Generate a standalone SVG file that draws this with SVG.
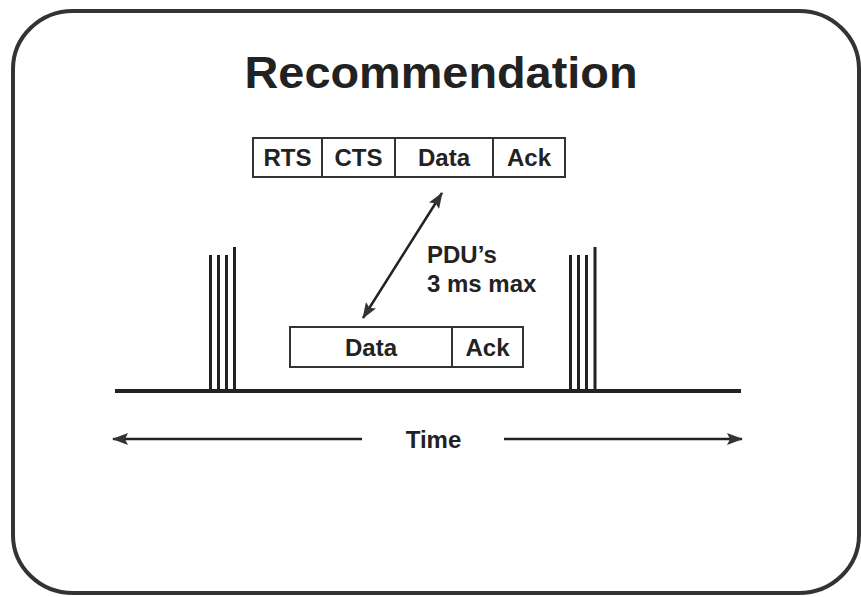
<svg xmlns="http://www.w3.org/2000/svg" width="861" height="597" viewBox="0 0 861 597">
<style>
text{font-family:"Liberation Sans",Arial,sans-serif;font-weight:bold;fill:#222}
.box{fill:#fff;stroke:#333;stroke-width:2}
.lbl{font-size:24px;text-anchor:middle}
.ln{stroke:#222;fill:none}
</style>
<defs>
<marker id="ah2" viewBox="0 0 16 12" refX="15" refY="6" markerWidth="16" markerHeight="12" markerUnits="userSpaceOnUse" orient="auto-start-reverse">
<path d="M0,0 L16,6 L0,12 L3,6 z" fill="#333"/>
</marker>
</defs>
<rect width="861" height="597" fill="#fff"/>
<rect x="13" y="11" width="846" height="582" rx="60" ry="58" fill="none" stroke="#333" stroke-width="4"/>
<text x="441" y="88" font-size="44" text-anchor="middle" textLength="393" lengthAdjust="spacingAndGlyphs">Recommendation</text>
<g id="top-sequence">
<g id="rts"><rect class="box" x="253" y="138" width="69" height="39"/><text class="lbl" x="287.5" y="166">RTS</text></g>
<g id="cts"><rect class="box" x="322" y="138" width="73" height="39"/><text class="lbl" x="358.5" y="166">CTS</text></g>
<g id="data-top"><rect class="box" x="395" y="138" width="98" height="39" stroke-width="2.5"/><text class="lbl" x="444" y="166">Data</text></g>
<g id="ack-top"><rect class="box" x="493" y="138" width="72" height="39"/><text class="lbl" x="529" y="166">Ack</text></g>
</g>
<g id="bottom-sequence">
<g id="data-bottom"><rect class="box" x="290" y="327" width="162" height="40"/><text class="lbl" x="371" y="356">Data</text></g>
<g id="ack-bottom"><rect class="box" x="452" y="327" width="71" height="40"/><text class="lbl" x="487.5" y="356">Ack</text></g>
</g>
<g id="timeline">
<line class="ln" x1="115" y1="391" x2="741" y2="391" stroke-width="4"/>
<g stroke="#222" stroke-width="3">
<line x1="210.5" y1="255" x2="210.5" y2="391"/>
<line x1="218.5" y1="255" x2="218.5" y2="391"/>
<line x1="226.5" y1="255" x2="226.5" y2="391"/>
<line x1="234.5" y1="247" x2="234.5" y2="391"/>
<line x1="570.5" y1="255" x2="570.5" y2="391"/>
<line x1="578.5" y1="255" x2="578.5" y2="391"/>
<line x1="586.5" y1="255" x2="586.5" y2="391"/>
<line x1="595" y1="247" x2="595" y2="391"/>
</g>
</g>
<g id="connectors">
<line class="ln" x1="363" y1="318" x2="442" y2="193" stroke-width="2.5" marker-start="url(#ah2)" marker-end="url(#ah2)"/>
<line class="ln" x1="113" y1="439" x2="362" y2="439" stroke-width="2.5" marker-start="url(#ah2)"/>
<line class="ln" x1="504" y1="439" x2="742" y2="439" stroke-width="2.5" marker-end="url(#ah2)"/>
</g>
<text x="427" y="263" font-size="24">PDU’s</text>
<text x="427" y="292" font-size="24">3 ms max</text>
<text x="433.5" y="448" font-size="24" text-anchor="middle">Time</text>
</svg>
